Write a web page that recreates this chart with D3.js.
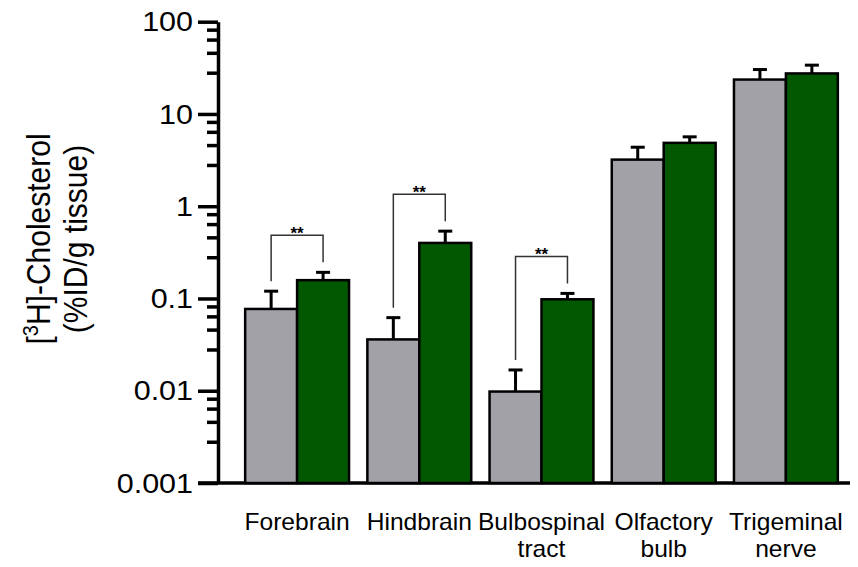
<!DOCTYPE html>
<html>
<head>
<meta charset="utf-8">
<script src="https://cdn.jsdelivr.net/npm/d3@7"></script>
<style>
  body { margin: 0; background: #fff; }
  svg { display: block; font-family: "Liberation Sans", Arial, sans-serif; }
</style>
</head>
<body>
<svg id="chart" width="858" height="567"></svg>
<script>
// data
const regions = ["Forebrain", "Hindbrain", "Bulbospinal tract", "Olfactory bulb", "Trigeminal nerve"];
const regionLines = [["Forebrain"], ["Hindbrain"], ["Bulbospinal", "tract"], ["Olfactory", "bulb"], ["Trigeminal", "nerve"]];
const controlMean = [0.077, 0.036, 0.0098, 3.2, 23.6];
const controlErr  = [0.043, 0.026, 0.007, 1.16, 6.7];
const treatedMean = [0.158, 0.40, 0.098, 4.86, 27.5];
const treatedErr  = [0.034, 0.137, 0.0155, 0.79, 6.3];
const significance = ["**", "**", "**", "", ""];
const majorTicks = [0.001, 0.01, 0.1, 1, 10, 100];

const width = 858, height = 567;
const margin = {top: 21.7, right: 8, bottom: 84, left: 218};
const innerW = width - margin.left - margin.right;
const innerH = height - margin.top - margin.bottom;

const colors = {control: "#a2a1a8", treated: "#015801"};
const stretch = 1.07; // the original's lettering is a bit wide

const svg = d3.select("#chart");
const g = svg.append("g").attr("transform", `translate(${margin.left},${margin.top})`);

const x = d3.scaleBand()
  .domain(regions)
  .range([18, innerW - 3])
  .paddingInner(0.15)
  .paddingOuter(0.075);

const xSub = d3.scaleBand()
  .domain(["control", "treated"])
  .range([0, x.bandwidth()]);

const y = d3.scaleLog()
  .domain([0.001, 100])
  .range([innerH, 0]);

// minor ticks: 5 linear steps per decade, like the original
const minorTicks = [];
for (let e = -3; e < 2; e++) {
  for (let k = 1; k <= 4; k++) minorTicks.push(Math.pow(10, e) * (1 + 1.8 * k));
}

// y axis
const yMinor = g.append("g")
  .call(d3.axisLeft(y).tickValues(minorTicks).tickSize(11).tickSizeOuter(0).tickFormat(""));
yMinor.select(".domain").remove();
yMinor.selectAll(".tick line").attr("stroke-width", 3.5);

const yAxis = g.append("g")
  .call(d3.axisLeft(y).tickValues(majorTicks).tickSize(20).tickSizeOuter(0)
    .tickFormat(d => d >= 1 ? d3.format("d")(d) : String(d)));
yAxis.select(".domain").attr("stroke-width", 3.5);
yAxis.selectAll(".tick line").attr("stroke-width", 3.5);
yAxis.selectAll(".tick text")
  .attr("x", -25 / stretch)
  .attr("transform", `scale(${stretch},1)`)
  .attr("font-size", 28.5)
  .attr("font-family", "Liberation Sans, Arial, sans-serif")
  .attr("fill", "#000");

// baseline
g.append("line")
  .attr("x1", -20).attr("x2", innerW)
  .attr("y1", innerH).attr("y2", innerH)
  .attr("stroke", "#000").attr("stroke-width", 3.5);

// bars
const rows = regions.map((r, i) => ({
  region: r,
  bars: [
    {key: "control", mean: controlMean[i], err: controlErr[i]},
    {key: "treated", mean: treatedMean[i], err: treatedErr[i]}
  ],
  sig: significance[i]
}));

const groups = g.selectAll(".group")
  .data(rows)
  .join("g")
    .attr("class", "group")
    .attr("transform", d => `translate(${x(d.region)},0)`);

const bar = groups.selectAll(".bar")
  .data(d => d.bars)
  .join("g")
    .attr("class", "bar");

bar.append("rect")
  .attr("x", d => xSub(d.key))
  .attr("width", xSub.bandwidth())
  .attr("y", d => y(d.mean))
  .attr("height", d => innerH - y(d.mean))
  .attr("fill", d => colors[d.key])
  .attr("stroke", "#000")
  .attr("stroke-width", 2.5);

// error bars (upper only)
bar.append("line")
  .attr("x1", d => xSub(d.key) + xSub.bandwidth() / 2)
  .attr("x2", d => xSub(d.key) + xSub.bandwidth() / 2)
  .attr("y1", d => y(d.mean))
  .attr("y2", d => y(d.mean + d.err))
  .attr("stroke", "#000").attr("stroke-width", 3);

bar.append("line")
  .attr("x1", d => xSub(d.key) + xSub.bandwidth() / 2 - 7)
  .attr("x2", d => xSub(d.key) + xSub.bandwidth() / 2 + 7)
  .attr("y1", d => y(d.mean + d.err))
  .attr("y2", d => y(d.mean + d.err))
  .attr("stroke", "#000").attr("stroke-width", 3);

// significance brackets
groups.filter(d => d.sig).each(function(d) {
  const grp = d3.select(this);
  const [c, t] = d.bars;
  const xl = xSub("control") + xSub.bandwidth() / 2;
  const xr = xSub("treated") + xSub.bandwidth() / 2;
  const yl = y(c.mean + c.err) - 10;
  const yr = y(t.mean + t.err) - 10;
  const top = Math.min(yl, yr) - 27;
  grp.append("path")
    .attr("d", `M${xl},${yl}V${top}H${xr}V${yr}`)
    .attr("fill", "none")
    .attr("stroke", "#333")
    .attr("stroke-width", 1.5);
  grp.append("text")
    .attr("x", (xl + xr) / 2)
    .attr("y", top + 4)
    .attr("text-anchor", "middle")
    .attr("font-size", 17)
    .attr("font-weight", "bold")
    .text(d.sig);
});

// category labels
const labels = g.selectAll(".xlabel")
  .data(regions)
  .join("text")
    .attr("class", "xlabel")
    .attr("text-anchor", "middle")
    .attr("font-size", 23)
    .attr("transform", d => `translate(${x(d) + x.bandwidth() / 2},${innerH + 47}) scale(1.07,1)`);

labels.selectAll("tspan")
  .data((d, i) => regionLines[i])
  .join("tspan")
    .attr("x", 0)
    .attr("dy", (d, i) => i === 0 ? 0 : 27)
    .text(d => d);

// y title
const title = svg.append("text")
  .attr("transform", `translate(50,239) rotate(-90) scale(1,1.1)`)
  .attr("text-anchor", "middle")
  .attr("font-size", 30);
title.append("tspan").text("[");
title.append("tspan").attr("font-size", 20).attr("dy", -11).text("3");
title.append("tspan").attr("dy", 11).text("H]-Cholesterol");

svg.append("text")
  .attr("transform", `translate(87,239) rotate(-90) scale(1,1.1)`)
  .attr("text-anchor", "middle")
  .attr("font-size", 30)
  .text("(%ID/g tissue)");
</script>
</body>
</html>
